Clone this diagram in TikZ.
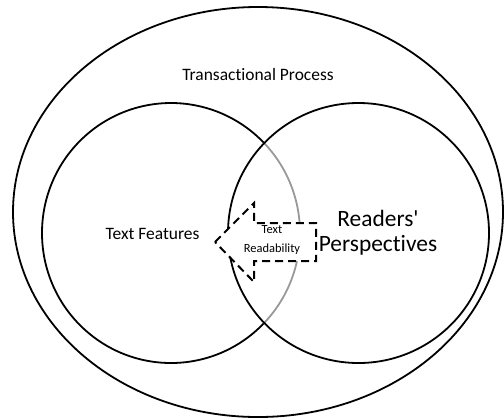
\documentclass[tikz,border=0pt]{standalone}
\usepackage{fontspec}
\setmainfont{Carlito}[Ligatures={TeXOff,NoCommon}]

\begin{document}
\begin{tikzpicture}[x=1bp, y=-1bp, line width=1.8bp,
  setlabel/.style={font=\fontsize{17.5}{21}\selectfont, inner sep=0pt},
  bigset/.style={font=\fontsize{23.5}{25}\selectfont, align=center, inner sep=0pt},
  arrowtext/.style={font=\fontsize{12.5}{20}\selectfont, align=center, inner sep=0pt},
  readarrow/.style={line width=2bp, dash pattern=on 8bp off 5bp, fill=white},
  lens/.style={gray!80}]
\useasboundingbox (0,0) rectangle (504,419);

% outer set
\draw (258,212) ellipse [x radius=245, y radius=205];

% two inner sets
\draw (171,233) ++(44:129 and 130) arc [start angle=44, end angle=316, x radius=129, y radius=130];
\draw[lens] (171,233) ++(-44:129 and 130) arc [start angle=-44, end angle=44, x radius=129, y radius=130];
\draw (358.5,233) ellipse [x radius=130.5, y radius=130];

% arrow in the overlap
\draw[readarrow] (215,242) -- (254,203) -- (254,223) -- (316,223) -- (316,261)
  -- (254,261) -- (254,282) -- cycle;

\node[setlabel] (process) at (258,75) {Transactional Process};
\node[setlabel] (features) at (152.5,234) {Text Features};
\node[bigset] (readers) at (378,233) {Readers'\\Perspectives};
\node[arrowtext] (readability) at (272,240) {Text\\Readability};
\end{tikzpicture}
\end{document}
